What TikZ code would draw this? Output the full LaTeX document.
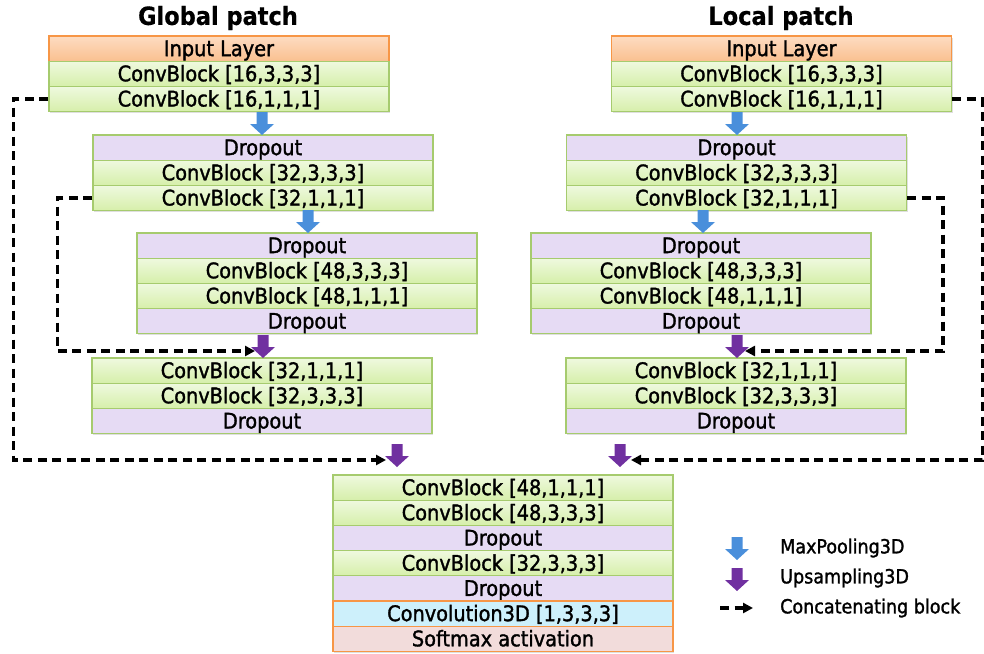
\documentclass[tikz,border=0pt]{standalone}
\usepackage{fontspec}
\setmainfont{DejaVu Sans}
\newfontfamily\rowfont[FakeBold=1.4]{DejaVu Sans Condensed}
\newfontfamily\titlefont[FakeBold=0.6]{DejaVu Sans Condensed Bold}
\usetikzlibrary{arrows.meta,shadows}
\definecolor{intop}{HTML}{FDDCC2}
\definecolor{inbot}{HTML}{FAC090}
\definecolor{inborder}{HTML}{F79646}
\definecolor{convtop}{HTML}{EFF9DF}
\definecolor{convbot}{HTML}{D6EFAA}
\definecolor{rowborder}{HTML}{A6CB6E}
\definecolor{dropfill}{HTML}{E6DBF4}
\definecolor{cyanfill}{HTML}{CDF0FB}
\definecolor{softfill}{HTML}{F2DCDB}
\definecolor{poolblue}{HTML}{4A8FDB}
\definecolor{uppurple}{HTML}{7030A0}
\tikzset{
  layer/.style={draw=rowborder, line width=1.1pt, minimum width=340pt, minimum height=25.2pt,
    inner sep=0pt, font=\rowfont\fontsize{21.5}{21.5}\selectfont, text height=17pt, text depth=2pt,
    drop shadow={opacity=0.25, shadow xshift=1.3pt, shadow yshift=-1.6pt}},
  conv/.style={layer, top color=convtop, bottom color=convbot},
  dropl/.style={layer, fill=dropfill},
  inlayer/.style={layer, draw=inborder, top color=intop, bottom color=inbot},
  convthree/.style={layer, draw=inborder, fill=cyanfill},
  softl/.style={layer, draw=inborder, fill=softfill},
  ttl/.style={font=\titlefont\fontsize{25}{25}\selectfont, inner sep=0pt},
  legtext/.style={font=\rowfont\fontsize{19.5}{19.5}\selectfont, anchor=west, inner sep=0pt},
  concat/.style={draw=black, line width=3.4pt, dash pattern=on 9pt off 5.5pt,
    -{Triangle[length=10pt,width=10pt]}},
  pics/blockarrow/.style={code={
    \fill[#1] (-5.5,0) -- (5.5,0) -- (5.5,12) -- (12,12) -- (0,23) -- (-12,12) -- (-5.5,12) -- cycle;}}
}
\begin{document}
\begin{tikzpicture}[x=1pt,y=-1pt]
\useasboundingbox (0,0) rectangle (984,653);
% titles
\node[ttl] (gt) at (218,18) {Global patch};
\node[ttl] (lt) at (781,18) {Local patch};
% ---- Global patch ----
\node[inlayer] (g1a) at (219,48.6) {Input Layer};
\node[conv]    (g1b) at (219,73.8) {ConvBlock [16,3,3,3]};
\node[conv]    (g1c) at (219,99.0) {ConvBlock [16,1,1,1]};
\node[dropl]   (g2a) at (263,147.6) {Dropout};
\node[conv]    (g2b) at (263,172.8) {ConvBlock [32,3,3,3]};
\node[conv]    (g2c) at (263,198.0) {ConvBlock [32,1,1,1]};
\node[dropl]   (g3a) at (307,245.6) {Dropout};
\node[conv]    (g3b) at (307,270.8) {ConvBlock [48,3,3,3]};
\node[conv]    (g3c) at (307,296.0) {ConvBlock [48,1,1,1]};
\node[dropl]   (g3d) at (307,321.2) {Dropout};
\node[conv]    (g4a) at (262,370.6) {ConvBlock [32,1,1,1]};
\node[conv]    (g4b) at (262,395.8) {ConvBlock [32,3,3,3]};
\node[dropl]   (g4c) at (262,421.0) {Dropout};
% ---- Local patch ----
\node[inlayer] (l1a) at (781.5,48.6) {Input Layer};
\node[conv]    (l1b) at (781.5,73.8) {ConvBlock [16,3,3,3]};
\node[conv]    (l1c) at (781.5,99.0) {ConvBlock [16,1,1,1]};
\node[dropl]   (l2a) at (736.5,147.6) {Dropout};
\node[conv]    (l2b) at (736.5,172.8) {ConvBlock [32,3,3,3]};
\node[conv]    (l2c) at (736.5,198.0) {ConvBlock [32,1,1,1]};
\node[dropl]   (l3a) at (701,245.6) {Dropout};
\node[conv]    (l3b) at (701,270.8) {ConvBlock [48,3,3,3]};
\node[conv]    (l3c) at (701,296.0) {ConvBlock [48,1,1,1]};
\node[dropl]   (l3d) at (701,321.2) {Dropout};
\node[conv]    (l4a) at (736,370.6) {ConvBlock [32,1,1,1]};
\node[conv]    (l4b) at (736,395.8) {ConvBlock [32,3,3,3]};
\node[dropl]   (l4c) at (736,421.0) {Dropout};
% ---- merged block ----
\node[conv]      (m1) at (503,487.6) {ConvBlock [48,1,1,1]};
\node[conv]      (m2) at (503,512.8) {ConvBlock [48,3,3,3]};
\node[dropl]     (m3) at (503,538.0) {Dropout};
\node[conv]      (m4) at (503,563.2) {ConvBlock [32,3,3,3]};
\node[dropl]     (m5) at (503,588.4) {Dropout};
\node[convthree] (m6) at (503,613.6) {Convolution3D [1,3,3,3]};
\node[softl]     (m7) at (503,638.8) {Softmax activation};
% ---- block arrows ----
\pic at (262,112) {blockarrow=poolblue};
\pic at (308,210) {blockarrow=poolblue};
\pic at (263,335) {blockarrow=uppurple};
\pic at (397,444) {blockarrow=uppurple};
\pic at (737,112) {blockarrow=poolblue};
\pic at (703,210) {blockarrow=poolblue};
\pic at (737,335) {blockarrow=uppurple};
\pic at (620,444) {blockarrow=uppurple};
% ---- concatenation connectors ----
\coordinate (gin) at (255,351);
\coordinate (gout) at (386,460);
\coordinate (lin) at (745,351);
\coordinate (lout) at (631,460);
\draw[concat] (g1c.west) -- ++(-35,0) |- (gout);
\draw[concat] (g2c.west) -- ++(-35,0) |- (gin);
\draw[concat] (l1c.east) -- ++(30.5,0) |- (lout);
\draw[concat] (l2c.east) -- ++(36,0) |- (lin);
% ---- legend ----
\pic at (737,537) {blockarrow=poolblue};
\pic at (737,568) {blockarrow=uppurple};
\coordinate (lgs) at (720,608);
\coordinate (lge) at (753,608);
\draw[concat] (lgs) -- (lge);
\node[legtext] (t1) at (780,548) {MaxPooling3D};
\node[legtext] (t2) at (780,578) {Upsampling3D};
\node[legtext] (t3) at (780,608) {Concatenating block};
\end{tikzpicture}
\end{document}
